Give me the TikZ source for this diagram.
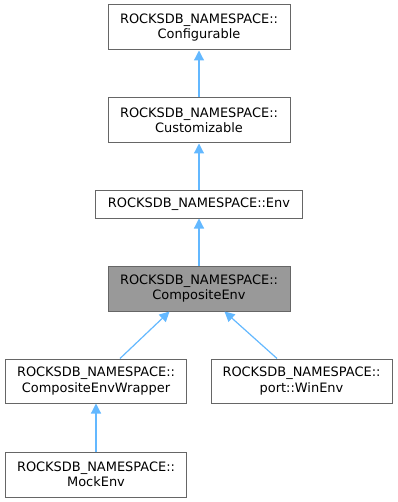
\documentclass[tikz,border=0pt]{standalone}
\usepackage{fontspec}
\setmainfont{DejaVu Sans}
\usepackage{xcolor}
\usetikzlibrary{arrows.meta}

\definecolor{edgeblue}{HTML}{63B8FF}
\definecolor{boxgrey}{HTML}{666666}
\definecolor{selfgrey}{HTML}{999999}

\tikzset{
    classbox/.style={draw=boxgrey, line width=1bp, fill=white, align=center,
        inner sep=0pt, minimum width=182bp, minimum height=45bp,
        font=\fontsize{13}{15.5}\selectfont},
    selfbox/.style={classbox, fill=selfgrey},
    inherit/.style={draw=edgeblue, line width=1.2bp,
        -{Triangle[length=10bp, width=10bp]}}
}

\begin{document}
\begin{tikzpicture}[x=1bp, y=-1bp]
    \useasboundingbox (0, 0) rectangle (397, 502);

    % class boxes, top to bottom
    \node[classbox] (configurable) at (199, 27.5) {ROCKSDB\_NAMESPACE::\\Configurable};
    \node[classbox] (customizable) at (199, 120.5) {ROCKSDB\_NAMESPACE::\\Customizable};
    \node[classbox, minimum width=207bp, minimum height=27bp] (env) at (199, 204.5) {ROCKSDB\_NAMESPACE::Env};
    \node[selfbox] (composite) at (199, 288.5) {ROCKSDB\_NAMESPACE::\\CompositeEnv};
    \node[classbox, minimum width=181bp, minimum height=44bp] (wrapper) at (96, 381) {ROCKSDB\_NAMESPACE::\\CompositeEnvWrapper};
    \node[classbox, minimum width=181bp, minimum height=44bp] (winenv) at (301.5, 381) {ROCKSDB\_NAMESPACE::\\port::WinEnv};
    \node[classbox, minimum width=181bp] (mockenv) at (96, 474.5) {ROCKSDB\_NAMESPACE::\\MockEnv};

    % inheritance edges, child -> base
    \draw[inherit] (customizable) -- (configurable);
    \draw[inherit] (env) -- (customizable);
    \draw[inherit] (composite) -- (env);
    \draw[inherit] ([xshift=24bp]wrapper.north) -- ([xshift=-29.5bp]composite.south);
    \draw[inherit] ([xshift=-24.5bp]winenv.north) -- ([xshift=25.5bp]composite.south);
    \draw[inherit] (mockenv) -- (wrapper);
\end{tikzpicture}
\end{document}
